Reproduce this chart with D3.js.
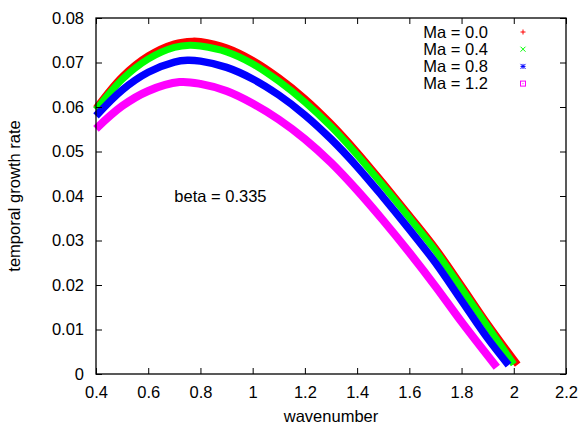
<!DOCTYPE html>
<html>
<head>
<meta charset="utf-8">
<script src="https://cdn.jsdelivr.net/npm/d3@7"></script>
<style>
  body { margin: 0; background: #fff; }
  .svgText { font-family: 'Liberation Sans', Arial, Helvetica, sans-serif; font-size: 16.5px; fill: #000; }
</style>
</head>
<body>
<div id="chart"></div>
<script>

// tick values
const xTicks = [0.4, 0.6, 0.8, 1.0, 1.2, 1.4, 1.6, 1.8, 2.0, 2.2];
const yTicks = [0, 0.01, 0.02, 0.03, 0.04, 0.05, 0.06, 0.07, 0.08];

const seriesNames = ['Ma = 0.0', 'Ma = 0.4', 'Ma = 0.8', 'Ma = 1.2'];

const kMa00 = [0.40, 0.50, 0.60, 0.70, 0.77, 0.80, 0.90, 1.00, 1.10, 1.20, 1.30, 1.40, 1.50, 1.60, 1.70, 1.80, 1.90, 2.015];
const rateMa00 = [0.0597, 0.0668, 0.0715, 0.0742, 0.0748, 0.0747, 0.0733, 0.0705, 0.0666, 0.0619, 0.0563, 0.0499, 0.0429, 0.0357, 0.0283, 0.0199, 0.0113, 0.0021];

const kMa04 = [0.40, 0.50, 0.60, 0.70, 0.76, 0.80, 0.90, 1.00, 1.10, 1.20, 1.30, 1.384, 1.50, 1.60, 1.70, 1.80, 1.90, 2.00];
const rateMa04 = [0.0594, 0.0662, 0.0708, 0.0734, 0.0739, 0.0737, 0.0724, 0.0697, 0.0658, 0.0611, 0.0556, 0.0503, 0.0423, 0.0351, 0.0277, 0.0192, 0.0107, 0.0022];

const kMa08 = [0.40, 0.50, 0.60, 0.70, 0.75, 0.80, 0.90, 1.00, 1.10, 1.20, 1.30, 1.40, 1.50, 1.60, 1.70, 1.80, 1.90, 1.98];
const rateMa08 = [0.0580, 0.0638, 0.0678, 0.0701, 0.0705, 0.0703, 0.0689, 0.0663, 0.0627, 0.0582, 0.0528, 0.0466, 0.0397, 0.0325, 0.0250, 0.0165, 0.0080, 0.0020];

const kMa12 = [0.40, 0.50, 0.60, 0.72, 0.80, 0.90, 1.00, 1.10, 1.20, 1.30, 1.40, 1.50, 1.60, 1.70, 1.80, 1.935];
const rateMa12 = [0.0551, 0.0602, 0.0636, 0.0656, 0.0652, 0.0636, 0.0608, 0.0572, 0.0528, 0.0475, 0.0413, 0.0345, 0.0273, 0.0197, 0.0117, 0.0015];

const betaLabel = 'beta = 0.335';

Chart = {

  svgSize: {width: 583, height: 428},
  margin: {top: 18, right: 17, bottom: 54, left: 96},
  colors: ['#ff0000', '#00ff00', '#0000ff', '#ff00ff'],
  bandWidths: [7, 7, 7.5, 8],
  legend: {textX: 488, markX: 523, y: 32, step: 17.2},

  graphWidth: function(){
    return this.svgSize.width - this.margin.left - this.margin.right;
  },

  graphHeight: function(){
    return this.svgSize.height - this.margin.top - this.margin.bottom;
  },

  createSVG: function(){
    this.svg = d3.select('#chart').append('svg')
      .attr('width', this.svgSize.width)
      .attr('height', this.svgSize.height)
    this.graph = this.svg.append('g')
      .attr('transform', `translate(${this.margin.left}, ${this.margin.top})`)
  },

  createScales: function(){
    this.xScale = d3.scaleLinear().domain([0.4, 2.2]).range([0, this.graphWidth()])
    this.yScale = d3.scaleLinear().domain([0, 0.08]).range([this.graphHeight(), 0])
  },

  createAxes: function(){
    const w = this.graphWidth(), h = this.graphHeight();
    const fmt = (d)=> d3.format('~g')(+d.toFixed(2));

    const bottom = this.graph.append('g').attr('transform', `translate(0, ${h})`)
      .call(d3.axisBottom(this.xScale).tickValues(xTicks).tickFormat(fmt).tickSize(-6).tickPadding(12))
    const top = this.graph.append('g')
      .call(d3.axisTop(this.xScale).tickValues(xTicks).tickFormat('').tickSize(-6))
    const left = this.graph.append('g')
      .call(d3.axisLeft(this.yScale).tickValues(yTicks).tickFormat(fmt).tickSize(-6).tickPadding(12))
    const right = this.graph.append('g').attr('transform', `translate(${w}, 0)`)
      .call(d3.axisRight(this.yScale).tickValues(yTicks).tickFormat('').tickSize(-6))

    ;[bottom, top, left, right].forEach((g)=>{
      g.select('.domain').remove()
      g.selectAll('line').attr('stroke', '#000')
      g.selectAll('text').attr('class', 'svgText').attr('font-size', null).attr('font-family', null)
    })
  },

  createBands: function(){
    const line = d3.line()
      .x((d)=> this.xScale(d[0]))
      .y((d)=> this.yScale(d[1]))
      .curve(d3.curveCatmullRom)

    const series = [[kMa00, rateMa00], [kMa04, rateMa04], [kMa08, rateMa08], [kMa12, rateMa12]];
    series.forEach((s, i)=>{
      const pts = s[0].map((k, j)=> [k, s[1][j]]);
      this.graph.append('path')
        .datum(pts)
        .attr('d', line)
        .attr('fill', 'none')
        .attr('stroke', this.colors[i])
        .attr('stroke-width', this.bandWidths[i])
    })
  },

  createBorder: function(){
    this.graph.append('rect')
      .attr('width', this.graphWidth())
      .attr('height', this.graphHeight())
      .attr('fill', 'none')
      .attr('stroke', '#000')
      .attr('stroke-width', 1.3)
  },

  createLegend: function(){
    const items = this.svg.append('g').selectAll('g')
      .data(seriesNames)
      .enter()
      .append('g')
      .attr('transform', (d, i)=> `translate(0, ${this.legend.y + i * this.legend.step})`)

    items.append('text')
      .attr('class', 'svgText')
      .attr('x', this.legend.textX)
      .attr('dy', '0.35em')
      .attr('text-anchor', 'end')
      .text((d)=> d)

    const mx = this.legend.markX, r = 2.5;
    items.each((d, i, n)=>{
      const g = d3.select(n[i]).append('g')
        .attr('transform', `translate(${mx}, 0)`)
        .attr('stroke', this.colors[i])
        .attr('fill', 'none')
        .attr('stroke-width', 1)
      if (i === 0 || i === 2) {
        g.append('path').attr('d', `M${-r},0H${r}M0,${-r}V${r}`)
      }
      if (i === 1 || i === 2) {
        g.append('path').attr('d', `M${-r},${-r}L${r},${r}M${-r},${r}L${r},${-r}`)
      }
      if (i === 3) {
        g.append('rect').attr('x', -r).attr('y', -r).attr('width', 2 * r).attr('height', 2 * r)
        g.append('rect').attr('x', -0.5).attr('y', -0.5).attr('width', 1).attr('height', 1)
          .attr('fill', this.colors[i]).attr('stroke', 'none')
      }
    })
  },

  createLabels: function(){
    this.graph.append('text')
      .attr('class', 'svgText')
      .attr('x', this.xScale(0.7))
      .attr('y', this.yScale(0.04))
      .attr('dy', '0.35em')
      .text(betaLabel)

    this.svg.append('text')
      .attr('class', 'svgText')
      .attr('x', this.margin.left + this.graphWidth() / 2)
      .attr('y', 422)
      .attr('text-anchor', 'middle')
      .text('wavenumber')

    this.svg.append('text')
      .attr('class', 'svgText')
      .attr('transform', `translate(20, ${this.margin.top + this.graphHeight() / 2}) rotate(-90)`)
      .attr('text-anchor', 'middle')
      .text('temporal growth rate')
  },

  loadChart: function(){
    this.createSVG();
    this.createScales();
    this.createBands();
    this.createAxes();
    this.createBorder();
    this.createLegend();
    this.createLabels();
  },
}

Chart.loadChart();

</script>
</body>
</html>
